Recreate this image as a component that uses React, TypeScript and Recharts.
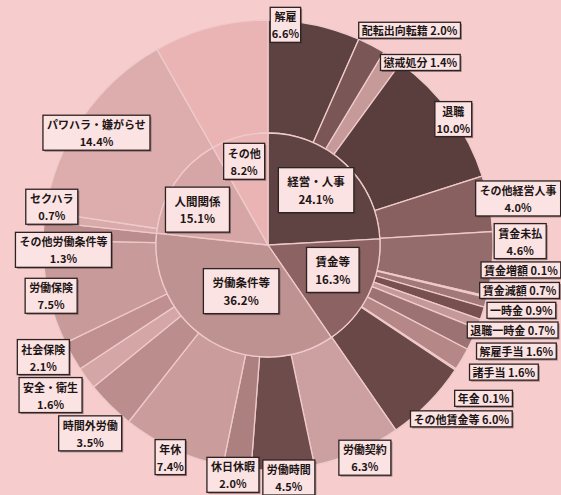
import React from 'react';
import { PieChart, Pie, Cell } from 'recharts';

// ---------- data ----------
const innerNames = ['経営・人事', '賃金等', '労働条件等', '人間関係', 'その他'];
const innerValues = [24.1, 16.3, 36.2, 15.1, 8.2];

const outerNames = [
  '解雇', '配転出向転籍', '懲戒処分', '退職', 'その他経営人事',
  '賃金未払', '賃金増額', '賃金減額', '一時金', '退職一時金', '解雇手当', '諸手当', '年金', 'その他賃金等',
  '労働契約', '労働時間', '休日休暇', '年休', '時間外労働', '安全・衛生', '社会保険', '労働保険', 'その他労働条件等',
  'セクハラ', 'パワハラ・嫌がらせ',
  'その他',
];
const outerValues = [
  6.6, 2.0, 1.4, 10.0, 4.0,
  4.6, 0.1, 0.7, 0.9, 0.7, 1.6, 1.6, 0.1, 6.0,
  6.3, 4.5, 2.0, 7.4, 3.5, 1.6, 2.1, 7.5, 1.3,
  0.7, 14.4,
  8.2,
];

// ---------- styles ----------
const innerColors = ['#5f4242', '#8c6262', '#bf9292', '#d6a6a6', '#eab4b4'];
const outerColors = [
  '#5e4141', '#7a5656', '#c79a9a', '#5a3d3d', '#886060',
  '#946c6c', '#4e3333', '#a37878', '#785050', '#c69999', '#9d7272', '#b58787', '#d7a8a8', '#6a4848',
  '#cca0a0', '#6e4c4c', '#ad8080', '#ca9c9c', '#bb8d8d', '#d4a6a6', '#c09090', '#c99a9a', '#bb8c8c',
  '#d9aaaa', '#ddacac',
  '#eab4b4',
];

const SINGLE_LINE = new Set([
  '配転出向転籍', '懲戒処分', '賃金増額', '賃金減額', '一時金', '退職一時金', '解雇手当', '諸手当', '年金', 'その他賃金等',
]);
const HIDDEN_OUTER = new Set(['その他']);

// label box nudges (from the slice's outer-edge midpoint)
const outerNudge: Record<string, [number, number]> = {
  '解雇': [-29, 0], '配転出向転籍': [38, -15], '懲戒処分': [28, 5], '退職': [3, 6], 'その他経営人事': [29, -5],
  '賃金未払': [28, -23], '賃金増額': [34, -27], '賃金減額': [34, -12], '一時金': [39, -3], '退職一時金': [34, 6],
  '解雇手当': [44, 12], '諸手当': [42, 13], '年金': [28, 29], 'その他賃金等': [33, 16],
  '労働契約': [8, 6], '労働時間': [6, 8], '休日休暇': [-4, 7], '年休': [-3, 8], '時間外労働': [-20, 28],
  '安全・衛生': [-36, 17], '社会保険': [-29, 1], '労働保険': [3, 3], 'その他労働条件等': [20, 19],
  'セクハラ': [7, -10], 'パワハラ・嫌がらせ': [14, 15],
};
const innerNudge: Record<string, [number, number]> = {
  '経営・人事': [0, -4], '賃金等': [2, -6], '労働条件等': [9, -14], '人間関係': [-12, 3], 'その他': [-6, -16],
};

const innerData = innerNames.map((name, i) => ({ name, value: innerValues[i] }));
const outerData = outerNames.map((name, i) => ({ name, value: outerValues[i] }));

const RAD = Math.PI / 180;
const FONT = '"Noto Sans CJK JP", "Noto Sans", sans-serif';

function textWidth(s: string, fs: number) {
  let w = 0;
  for (const ch of s) {
    const c = ch.codePointAt(0) || 0;
    if (c >= 0x2e80) w += fs;
    else if (ch === ' ') w += fs * 0.3;
    else if (ch === '.') w += fs * 0.3;
    else w += fs * 0.58;
  }
  return w;
}

function Box({ x, y, lines, fs, padX, h }: { x: number; y: number; lines: string[]; fs: number; padX: number; h: number }) {
  const w = Math.max(...lines.map((l) => textWidth(l, fs))) + padX * 2;
  const lh = fs + 6;
  const y0 = y - ((lines.length - 1) * lh) / 2;
  return (
    <g>
      <rect x={x - w / 2 + 1.5} y={y - h / 2 + 1.5} width={w} height={h} fill="#4a3a3a" opacity={0.5} />
      <rect x={x - w / 2} y={y - h / 2} width={w} height={h} fill="#fbe3e3" stroke="#2e2222" strokeWidth={1.3} />
      {lines.map((l, i) => (
        <text
          key={i}
          x={x}
          y={y0 + i * lh}
          textAnchor="middle"
          dominantBaseline="central"
          fontSize={fs}
          fontWeight={700}
          fontFamily={FONT}
          fill="#1e1616"
        >
          {l}
        </text>
      ))}
    </g>
  );
}

function renderOuterLabel(props: any) {
  const { cx, cy, midAngle, outerRadius, name, value } = props;
  if (HIDDEN_OUTER.has(name)) return null;
  const px = cx + outerRadius * Math.cos(-midAngle * RAD);
  const py = cy + outerRadius * Math.sin(-midAngle * RAD);
  const [dx, dy] = outerNudge[name] || [0, 0];
  const pct = `${Number(value).toFixed(1)}%`;
  const single = SINGLE_LINE.has(name);
  const lines = single ? [`${name} ${pct}`] : [name, pct];
  return <Box x={px + dx} y={py + dy} lines={lines} fs={11} padX={single ? 5 : 4} h={single ? 16 : 35} />;
}

function renderInnerLabel(props: any) {
  const { cx, cy, midAngle, name, value } = props;
  const r = 70;
  const px = cx + r * Math.cos(-midAngle * RAD);
  const py = cy + r * Math.sin(-midAngle * RAD);
  const [dx, dy] = innerNudge[name] || [0, 0];
  const pct = `${Number(value).toFixed(1)}%`;
  const small = name === 'その他';
  return (
    <Box
      x={px + dx}
      y={py + dy}
      lines={[name, pct]}
      fs={small ? 11 : 11.5}
      padX={small ? 4 : 9}
      h={small ? 36 : 45}
    />
  );
}

export default function App() {
  return (
    <div style={{ position: 'absolute', left: 0, top: 0, width: 561, height: 495, background: '#f6cccc', overflow: 'hidden' }}>
      <PieChart width={561} height={495} margin={{ top: 0, right: 0, bottom: 0, left: 0 }}>
        <Pie
          data={outerData}
          dataKey="value"
          nameKey="name"
          cx={268}
          cy={245}
          innerRadius={112}
          outerRadius={225}
          startAngle={90}
          endAngle={-270}
          label={renderOuterLabel}
          labelLine={false}
          isAnimationActive={false}
        >
          {outerData.map((d, i) => (
            <Cell key={d.name + i} fill={outerColors[i]} stroke="#efcaca" strokeWidth={1.3} />
          ))}
        </Pie>
        <Pie
          data={innerData}
          dataKey="value"
          nameKey="name"
          cx={268}
          cy={245}
          innerRadius={0}
          outerRadius={112}
          startAngle={90}
          endAngle={-270}
          label={renderInnerLabel}
          labelLine={false}
          isAnimationActive={false}
        >
          {innerData.map((d, i) => (
            <Cell key={d.name} fill={innerColors[i]} stroke="#efcaca" strokeWidth={1.3} />
          ))}
        </Pie>
      </PieChart>
    </div>
  );
}
